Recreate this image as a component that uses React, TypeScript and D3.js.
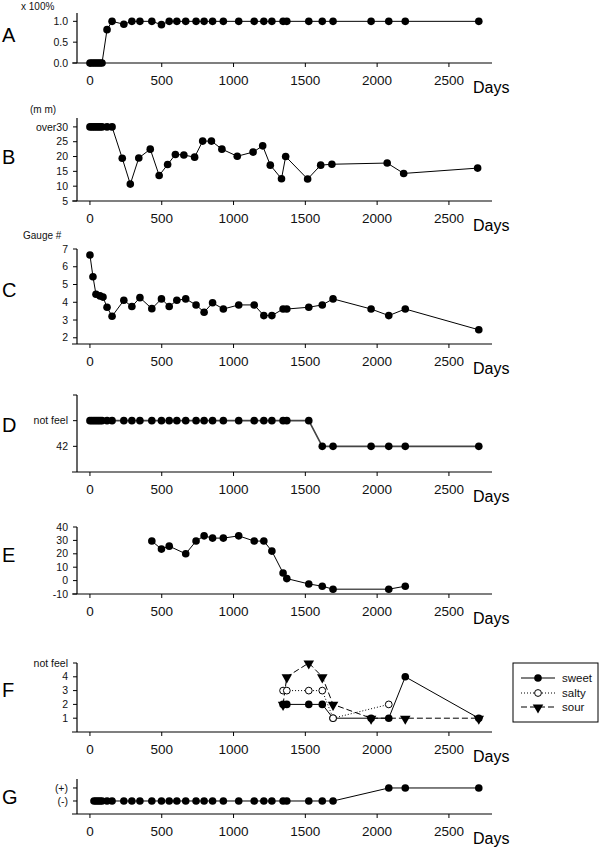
import React from "react";
import * as d3 from "d3";

// ---------- data ----------
const xTickValues = [0, 500, 1000, 1500, 2000, 2500];

const daysA = [0, 14, 28, 42, 56, 70, 84, 119, 154, 236, 292, 348, 431, 498, 552, 605, 667, 739, 795, 854, 929, 1036, 1144, 1211, 1267, 1345, 1371, 1524, 1618, 1693, 1958, 2081, 2196, 2708];
const valuesA = [0, 0, 0, 0, 0, 0, 0, 0.8, 1, 0.93, 1, 1, 1, 0.92, 1, 1, 1, 1, 1, 1, 1, 1, 1, 1, 1, 1, 1, 1, 1, 1, 1, 1, 1, 1];
const yTicksA = [0, 0.5, 1.0];
const yLabelsA = ["0.0", "0.5", "1.0"];

const daysB = [0, 14, 28, 42, 56, 70, 84, 119, 154, 225, 281, 340, 420, 482, 541, 595, 654, 729, 785, 846, 919, 1026, 1136, 1203, 1256, 1334, 1363, 1516, 1607, 1685, 2070, 2185, 2700];
const valuesB = [30, 30, 30, 30, 30, 30, 30, 30, 30, 19.4, 10.7, 19.5, 22.5, 13.6, 17.3, 20.7, 20.5, 19.8, 25.2, 25.2, 22.5, 20.1, 21.5, 23.6, 17.1, 12.5, 20.0, 12.4, 17.1, 17.4, 17.8, 14.3, 16.1];
const yTicksB = [5, 10, 15, 20, 25, 30];
const yLabelsB = ["5", "10", "15", "20", "25", "over30"];

const daysC = [0, 21, 42, 70, 91, 119, 154, 236, 292, 348, 431, 498, 552, 605, 667, 739, 795, 854, 929, 1036, 1144, 1211, 1267, 1345, 1371, 1524, 1618, 1693, 1958, 2081, 2196, 2708];
const valuesC = [6.66, 5.44, 4.45, 4.36, 4.29, 3.72, 3.21, 4.11, 3.76, 4.26, 3.64, 4.19, 3.76, 4.11, 4.19, 3.85, 3.44, 3.97, 3.62, 3.85, 3.85, 3.25, 3.25, 3.62, 3.62, 3.72, 3.85, 4.19, 3.62, 3.25, 3.62, 2.45];
const yTicksC = [2, 3, 4, 5, 6, 7];

const levelsD = ["42", "not feel"];
const daysD = daysA;
const valuesD = [
  "not feel", "not feel", "not feel", "not feel", "not feel", "not feel", "not feel", "not feel", "not feel", "not feel",
  "not feel", "not feel", "not feel", "not feel", "not feel", "not feel", "not feel", "not feel", "not feel", "not feel",
  "not feel", "not feel", "not feel", "not feel", "not feel", "not feel", "not feel", "not feel",
  "42", "42", "42", "42", "42", "42",
];

const daysE = [431, 498, 552, 667, 739, 795, 854, 929, 1036, 1144, 1211, 1267, 1345, 1371, 1524, 1618, 1693, 2081, 2196];
const valuesE = [29.5, 23.5, 25.7, 20, 29.5, 33.4, 31.7, 31.7, 33.4, 29.5, 29.5, 22, 5.7, 1.5, -2.5, -4.2, -6.4, -6.4, -4.2];
const yTicksE = [-10, 0, 10, 20, 30, 40];

const yTicksF = [1, 2, 3, 4, 5];
const yLabelsF = ["1", "2", "3", "4", "not feel"];
const daysSweet = [1345, 1371, 1524, 1618, 1693, 1958, 2081, 2196, 2708];
const sweet = [2, 2, 2, 2, 1, 1, 1, 4, 1];
const daysSalty = [1345, 1371, 1524, 1618, 1693, 2081];
const salty = [3, 3, 3, 3, 1, 2];
const daysSour = [1345, 1371, 1524, 1618, 1693, 1958, 2196, 2708];
const sour = [2, 4, 5, 4, 2, 1, 1, 1];
const seriesNamesF = ["sweet", "salty", "sour"];

const levelsG = ["(-)", "(+)"];
const daysG = [28, 42, 56, 70, 84, 119, 154, 236, 292, 348, 431, 498, 552, 605, 667, 739, 795, 854, 929, 1036, 1144, 1211, 1267, 1345, 1371, 1524, 1618, 1693, 2081, 2196, 2708];
const valuesG = [
  "(-)", "(-)", "(-)", "(-)", "(-)", "(-)", "(-)", "(-)", "(-)", "(-)",
  "(-)", "(-)", "(-)", "(-)", "(-)", "(-)", "(-)", "(-)", "(-)", "(-)",
  "(-)", "(-)", "(-)", "(-)", "(-)", "(-)", "(-)", "(-)",
  "(+)", "(+)", "(+)",
];

// ---------- layout ----------
const FONT = "'Liberation Sans', Arial, Helvetica, sans-serif";
const X0 = 72;
const X1 = 492;
const YAXIS_X = 77;
const x = d3.scaleLinear().domain([-125, 2800]).range([X0, X1]);

type Pt = [number, number];

function XAxis({ y }: { y: number }) {
  return (
    <g>
      <line x1={X0} x2={X1} y1={y} y2={y} stroke="#000" strokeWidth={1.2} />
      {xTickValues.map((t) => (
        <g key={t}>
          <line x1={x(t)} x2={x(t)} y1={y} y2={y + 4} stroke="#000" strokeWidth={1} />
          <text x={x(t)} y={y + 22} textAnchor="middle" fontSize={13.5} fill="#111" fontFamily={FONT}>
            {t}
          </text>
        </g>
      ))}
      <text x={473} y={y + 30} fontSize={16} fill="#000" fontFamily={FONT}>
        Days
      </text>
    </g>
  );
}

function YAxis({ scale, ticks, labels, top, bottom, extraTicks = [] as number[] }: any) {
  return (
    <g>
      <line x1={YAXIS_X} x2={YAXIS_X} y1={top} y2={bottom} stroke="#000" strokeWidth={1.2} />
      {ticks.map((t: number, i: number) => (
        <g key={t}>
          <line x1={YAXIS_X - 4} x2={YAXIS_X} y1={scale(t)} y2={scale(t)} stroke="#000" strokeWidth={1} />
          <text x={YAXIS_X - 9} y={scale(t)} dy="0.35em" textAnchor="end" fontSize={10.5} fill="#111" fontFamily={FONT}>
            {labels[i]}
          </text>
        </g>
      ))}
      {extraTicks.map((t: number) => (
        <line key={"e" + t} x1={YAXIS_X - 4} x2={YAXIS_X} y1={scale(t)} y2={scale(t)} stroke="#000" strokeWidth={1} />
      ))}
    </g>
  );
}

function Series({ pts, dash, marker, lineWidth = 1, color = "#000" }: { pts: Pt[]; dash?: string; marker: string; lineWidth?: number; color?: string }) {
  const line = d3.line<Pt>().x((d) => d[0]).y((d) => d[1]);
  const tri = d3.symbol().type(d3.symbolTriangle).size(48)();
  return (
    <g>
      <path d={line(pts) || ""} fill="none" stroke={color} strokeWidth={lineWidth} strokeDasharray={dash} />
      {pts.map((p, i) =>
        marker === "circle" ? (
          <circle key={i} cx={p[0]} cy={p[1]} r={3.8} fill="#000" />
        ) : marker === "open" ? (
          <circle key={i} cx={p[0]} cy={p[1]} r={3.4} fill="#fff" stroke="#000" strokeWidth={1} />
        ) : (
          <path key={i} d={tri || ""} transform={`translate(${p[0]},${p[1] + 0.5}) rotate(180)`} fill="#000" />
        )
      )}
    </g>
  );
}

function Letter({ ch, y }: { ch: string; y: number }) {
  return (
    <text x={2} y={y} fontSize={20} fill="#000" fontFamily={FONT}>
      {ch}
    </text>
  );
}

function Unit({ t, x: xx, y }: { t: string; x: number; y: number }) {
  return (
    <text x={xx} y={y} fontSize={10} fill="#111" fontFamily={FONT}>
      {t}
    </text>
  );
}

export default function App() {
  const yA = d3.scaleLinear().domain([0, 1.2]).range([63, 13]);
  const ptsA: Pt[] = daysA.map((d, i) => [x(d), yA(valuesA[i])]);
  const yB = d3.scaleLinear().domain([5, 33]).range([201, 118]);
  const ptsB: Pt[] = daysB.map((d, i) => [x(d), yB(valuesB[i])]);
  const yC = d3.scaleLinear().domain([1.65, 7]).range([344, 249]);
  const ptsC: Pt[] = daysC.map((d, i) => [x(d), yC(valuesC[i])]);
  const yD = d3.scaleLinear().domain([0, 3]).range([472, 395]);
  const ptsD: Pt[] = daysD.map((d, i) => [x(d), yD(levelsD.indexOf(valuesD[i]) + 1)]);
  const yE = d3.scaleLinear().domain([-10, 40]).range([594, 527]);
  const ptsE: Pt[] = daysE.map((d, i) => [x(d), yE(valuesE[i])]);
  const yF = d3.scaleLinear().domain([0, 5]).range([732, 663]);
  const ptsSweet: Pt[] = daysSweet.map((d, i) => [x(d), yF(sweet[i])]);
  const ptsSalty: Pt[] = daysSalty.map((d, i) => [x(d), yF(salty[i])]);
  const ptsSour: Pt[] = daysSour.map((d, i) => [x(d), yF(sour[i])]);
  const yG = d3.scaleLinear().domain([0, 2.69]).range([814, 779]);
  const ptsG: Pt[] = daysG.map((d, i) => [x(d), yG(levelsG.indexOf(valuesG[i]) + 1)]);

  const tri = d3.symbol().type(d3.symbolTriangle).size(48)();
  const legendY = [678, 693, 707];

  return (
    <svg width={600} height={849} style={{ position: "absolute", left: 0, top: 0, background: "#fff" }} fontFamily={FONT}>
      <rect width={600} height={849} fill="#fff" />

      {/* A */}
      <Letter ch="A" y={42} />
      <Unit t="x 100%" x={21} y={10} />
      <YAxis scale={yA} ticks={yTicksA} labels={yLabelsA} top={13} bottom={63} />
      <XAxis y={63} />
      <Series pts={ptsA} marker="circle" />

      {/* B */}
      <Letter ch="B" y={164} />
      <Unit t="(m m)" x={30} y={113} />
      <YAxis scale={yB} ticks={yTicksB} labels={yLabelsB} top={118} bottom={201} />
      <XAxis y={201} />
      <Series pts={ptsB} marker="circle" />

      {/* C */}
      <Letter ch="C" y={297} />
      <Unit t="Gauge #" x={23} y={239} />
      <YAxis scale={yC} ticks={yTicksC} labels={yTicksC.map(String)} top={249} bottom={344} />
      <XAxis y={344} />
      <Series pts={ptsC} marker="circle" />

      {/* D */}
      <Letter ch="D" y={432} />
      <YAxis scale={yD} ticks={[1, 2]} labels={levelsD} top={395} bottom={472} extraTicks={[3]} />
      <XAxis y={472} />
      <Series pts={ptsD} marker="circle" lineWidth={1.6} color="#444" />

      {/* E */}
      <Letter ch="E" y={562} />
      <YAxis scale={yE} ticks={yTicksE} labels={yTicksE.map(String)} top={527} bottom={594} />
      <XAxis y={594} />
      <Series pts={ptsE} marker="circle" />

      {/* F */}
      <Letter ch="F" y={697} />
      <YAxis scale={yF} ticks={yTicksF} labels={yLabelsF} top={663} bottom={732} />
      <XAxis y={732} />
      <Series pts={ptsSour} marker="tri" dash="6,3" />
      <Series pts={ptsSweet} marker="circle" />
      <Series pts={ptsSalty} marker="open" dash="1,2" />

      {/* legend */}
      <rect x={513} y={663} width={85} height={59} fill="#fff" stroke="#000" strokeWidth={1} />
      {seriesNamesF.map((name, i) => (
        <g key={name}>
          <line x1={521} x2={555} y1={legendY[i]} y2={legendY[i]} stroke="#000" strokeWidth={1}
            strokeDasharray={i === 1 ? "1,2" : i === 2 ? "6,3" : undefined} />
          {i === 0 && <circle cx={538} cy={legendY[i]} r={3.8} fill="#000" />}
          {i === 1 && <circle cx={538} cy={legendY[i]} r={3.4} fill="#fff" stroke="#000" />}
          {i === 2 && <path d={tri || ""} transform={`translate(538,${legendY[i] + 0.5}) rotate(180)`} fill="#000" />}
          <text x={562} y={legendY[i]} dy="0.35em" fontSize={11.5} fill="#111" fontFamily={FONT}>
            {name}
          </text>
        </g>
      ))}

      {/* G */}
      <Letter ch="G" y={804} />
      <YAxis scale={yG} ticks={[1, 2]} labels={levelsG} top={779} bottom={814} />
      <XAxis y={814} />
      <Series pts={ptsG} marker="circle" />
    </svg>
  );
}
